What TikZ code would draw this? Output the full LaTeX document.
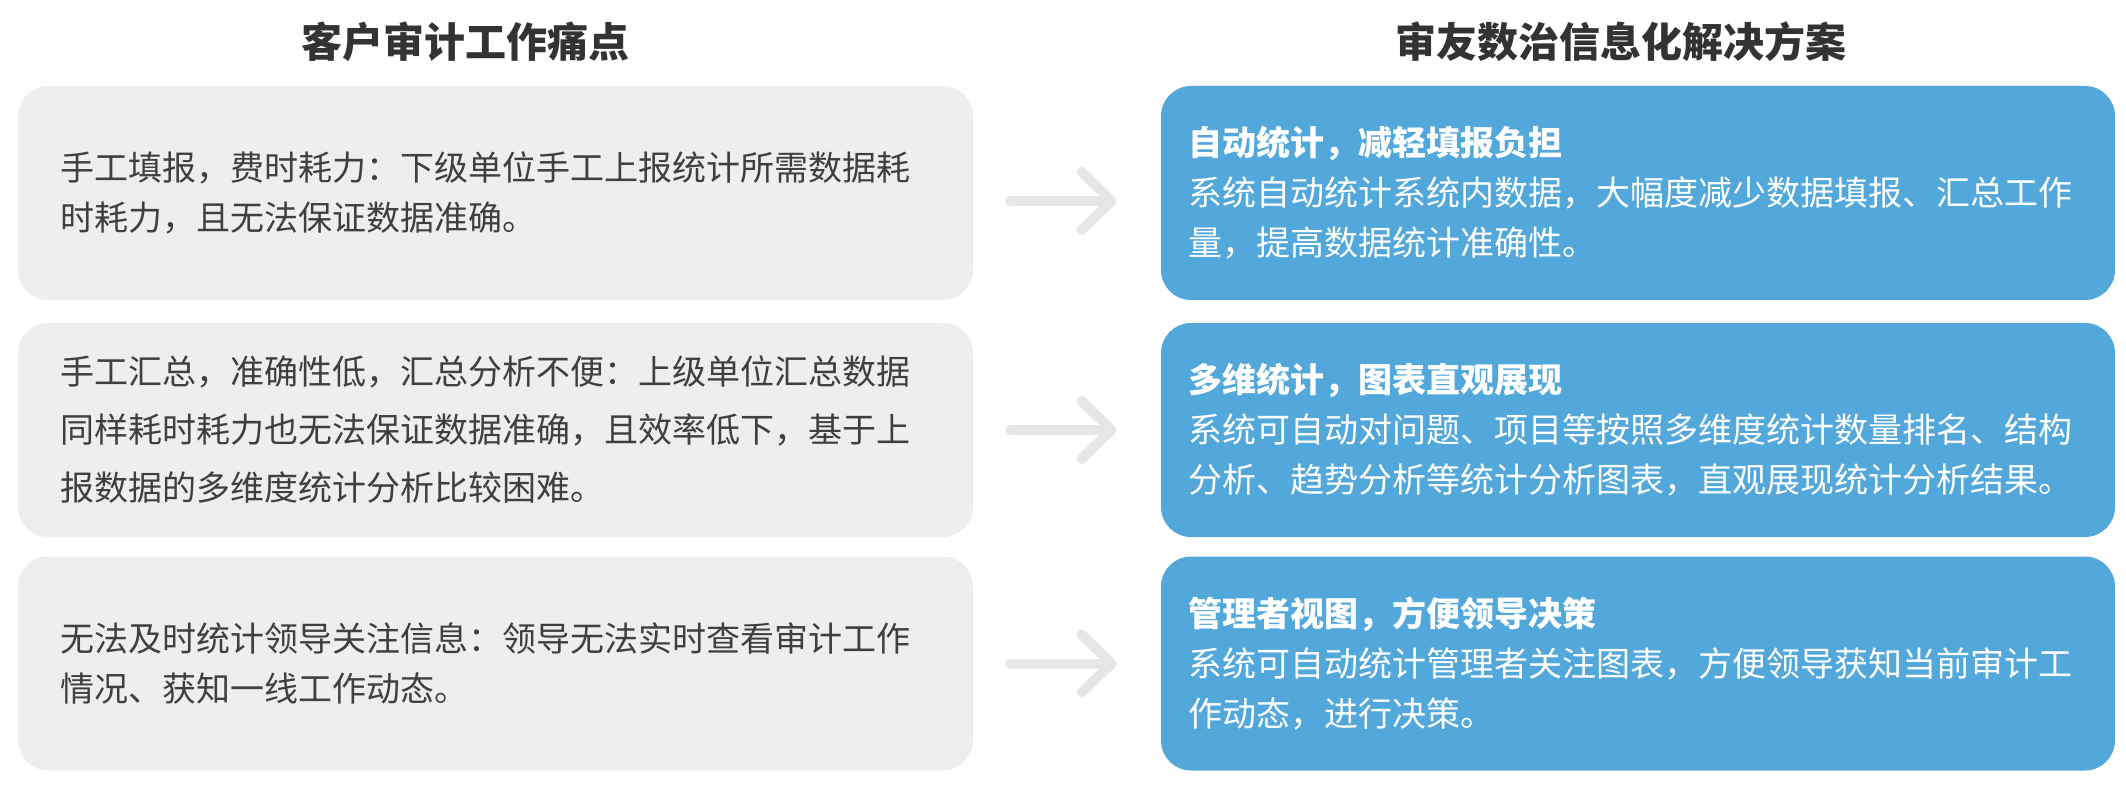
\documentclass[tikz,border=0pt]{standalone}
\usepackage{fontspec}
\setmainfont{Noto Sans CJK SC}
\usetikzlibrary{arrows.meta}

\definecolor{painbg}{HTML}{EEEEEE}
\definecolor{planbg}{HTML}{52A7DB}
\definecolor{flowgray}{HTML}{E5E6E6}
\definecolor{textgray}{HTML}{3F3F3F}
\definecolor{titlegray}{HTML}{333333}

\begin{document}
\begin{tikzpicture}[x=0.5pt, y=-0.5pt,
    painbox/.style={fill=painbg, rounded corners=15pt, minimum width=477.5pt, minimum height=107pt,
        text width=434.5pt, inner xsep=21.5pt, align=left, text=textgray,
        font=\fontsize{17pt}{25pt}\selectfont},
    planbox/.style={fill=planbg, rounded corners=15pt, minimum width=477pt, minimum height=107pt,
        text width=450pt, inner xsep=13.5pt, align=left, text=white,
        font=\fontsize{17pt}{25pt}\selectfont},
    coltitle/.style={font=\fontsize{20.5pt}{24pt}\selectfont\bfseries, text=titlegray},
    flow/.style={line width=5pt, flowgray, line cap=round,
        -{Straight Barb[round, length=15pt, width=29pt]}, shorten <=18.5pt, shorten >=22pt}]

    \useasboundingbox (0, 0) rectangle (2126, 786);

    % Column titles
    \node[coltitle] (paintitle) at (465, 42) {客户审计工作痛点};
    \node[coltitle] (plantitle) at (1621, 42) {审友数治信息化解决方案};

    % Pain points
    \node[painbox] (pain1) at (495.5, 193) {手工填报，费时耗力：下级单位手工上报统计所需数据耗\\时耗力，且无法保证数据准确。};
    \node[painbox, font=\fontsize{17pt}{29pt}\selectfont] (pain2) at (495.5, 430) {手工汇总，准确性低，汇总分析不便：上级单位汇总数据\\同样耗时耗力也无法保证数据准确，且效率低下，基于上\\报数据的多维度统计分析比较困难。};
    \node[painbox] (pain3) at (495.5, 663.5) {无法及时统计领导关注信息：领导无法实时查看审计工作\\情况、获知一线工作动态。};

    % Solutions
    \node[planbox] (plan1) at (1638, 193) {{\bfseries 自动统计，减轻填报负担}\\系统自动统计系统内数据，大幅度减少数据填报、汇总工作\\量，提高数据统计准确性。};
    \node[planbox] (plan2) at (1638, 430) {{\bfseries 多维统计，图表直观展现}\\系统可自动对问题、项目等按照多维度统计数量排名、结构\\分析、趋势分析等统计分析图表，直观展现统计分析结果。};
    \node[planbox] (plan3) at (1638, 663.5) {{\bfseries 管理者视图，方便领导决策}\\系统可自动统计管理者关注图表，方便领导获知当前审计工\\作动态，进行决策。};

    % Arrows
    \draw[flow] ([yshift=-4pt]pain1.east) -- ([yshift=-4pt]plan1.west);
    \draw[flow] (pain2.east) -- (plan2.west);
    \draw[flow] (pain3.east) -- (plan3.west);
\end{tikzpicture}
\end{document}
